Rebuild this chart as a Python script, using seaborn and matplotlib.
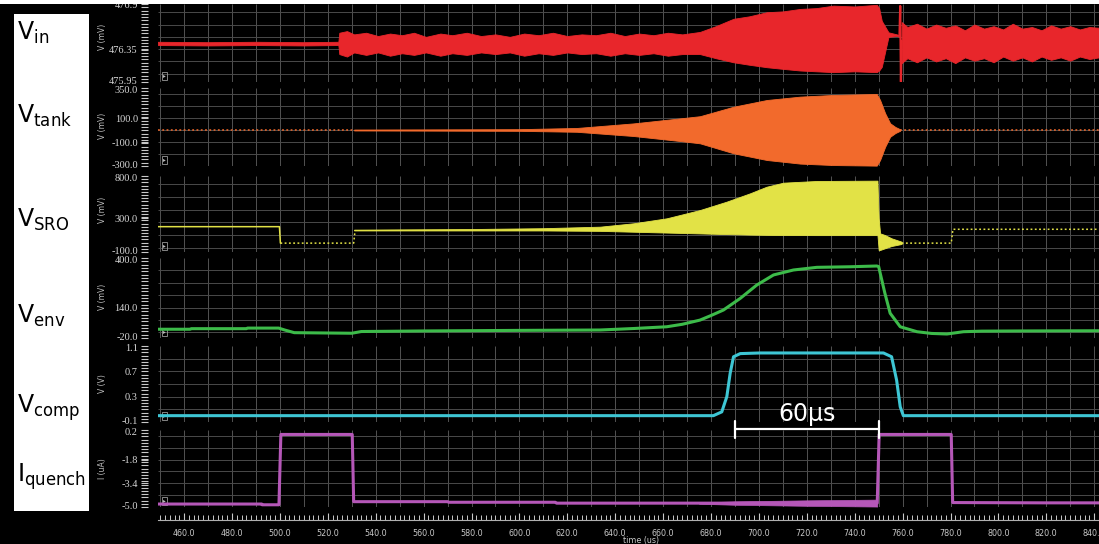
import numpy as np
import matplotlib
matplotlib.use("Agg")
import matplotlib.pyplot as plt
import matplotlib.transforms as mtransforms
from matplotlib.patches import Rectangle
from matplotlib.ticker import FixedLocator, MultipleLocator
import seaborn as sns

# ------------------------------------------------------------------ data
time_tick_values = list(range(460, 841, 20))
time_tick_labels = [f"{v:.1f}" for v in time_tick_values]

# Vin (mV): noisy band envelope, spike, band after quench
vin_t = [449.1, 470, 490, 510, 524.4, 524.8, 528, 531, 536, 541, 546, 551, 556, 561,
         567, 572, 578, 584, 590, 596, 602, 608, 614, 620, 626, 632, 638, 644, 650,
         656, 662, 668, 675.4, 682, 689.4, 696, 703.3, 710, 717.2, 724, 731.1, 740,
         749.2, 750.2, 751.3, 754.1, 757.6, 758.6]
vin_hi = [476.44, 476.435, 476.44, 476.435, 476.44, 476.55, 476.57, 476.53, 476.55,
          476.51, 476.54, 476.52, 476.55, 476.50, 476.54, 476.52, 476.55, 476.51, 476.53,
          476.50, 476.54, 476.52, 476.55, 476.51, 476.53, 476.52, 476.55, 476.51, 476.54,
          476.52, 476.55, 476.53, 476.56, 476.63, 476.72, 476.75, 476.80, 476.81, 476.84,
          476.85, 476.88, 476.87, 476.89, 476.85, 476.695, 476.555, 476.53, 476.52]
vin_lo = [476.40, 476.395, 476.40, 476.395, 476.40, 476.29, 476.26, 476.31, 476.28,
          476.31, 476.27, 476.30, 476.28, 476.31, 476.27, 476.30, 476.28, 476.31, 476.29,
          476.31, 476.27, 476.30, 476.28, 476.31, 476.29, 476.30, 476.27, 476.30, 476.28,
          476.30, 476.27, 476.29, 476.29, 476.24, 476.19, 476.16, 476.13, 476.11, 476.09,
          476.08, 476.07, 476.08, 476.07, 476.09, 476.134, 476.50, 476.51, 476.50]
vin_spike_t = [758.7, 759.0, 759.3, 759.6]
vin_spike_v = [476.52, 476.876, 475.953, 476.45]
vin_post_t = [759.6, 762, 766, 770, 774, 778, 782, 786, 790, 794, 798, 802, 806, 810,
              814, 818, 822, 826, 830, 834, 838, 842.0]
vin_post_hi = [476.68, 476.62, 476.66, 476.60, 476.65, 476.61, 476.64, 476.58, 476.65,
               476.60, 476.63, 476.59, 476.66, 476.60, 476.62, 476.58, 476.64, 476.60,
               476.63, 476.59, 476.62, 476.61]
vin_post_lo = [476.18, 476.24, 476.19, 476.25, 476.20, 476.24, 476.18, 476.25, 476.21,
               476.24, 476.19, 476.26, 476.21, 476.25, 476.20, 476.26, 476.22, 476.25,
               476.21, 476.26, 476.23, 476.25]

# Vtank (mV)
vtank_pre_t = [449.1, 531.0]
vtank_pre_v = [0, 0]
vtank_band_t = [531, 560, 600, 624, 647.6, 668.5, 675.4, 689.4, 703.3, 717.2, 731.0,
                749.2, 750.6, 752.7, 754.8, 757.0, 759.0]
vtank_band_hi = [4, 5, 7, 17, 55, 100, 115, 194, 250, 278, 292, 300, 250, 140, 56, 25, 6]
vtank_band_lo = [-4, -5, -7, -15, -50, -95, -111, -194, -250, -280, -292, -297, -250,
                 -140, -56, -25, -6]
vtank_post_t = [759.0, 842.0]
vtank_post_v = [0, 0]

# VSRO (mV)
vsro_pre_t = [449.1, 499.8, 500.2]
vsro_pre_v = [200, 200, 5]
vsro_low_t = [500.2, 530.8, 531.4]
vsro_low_v = [5, 5, 160]
vsro_band_t = [531, 580, 610, 633.7, 647.6, 661.5, 675.4, 686.5, 696.3, 703.2, 710.2,
               724.1, 749.5, 750.0, 750.6, 752.6, 755.4, 759.6]
vsro_band_hi = [165, 172, 182, 200, 240, 299, 397, 496, 595, 673, 721, 741, 745, 300,
                121, 101, 62, 22]
vsro_band_lo = [155, 155, 155, 150, 140, 130, 120, 112, 106, 103, 101, 100, 100, -76,
                -76, -56, -29, -5]
vsro_post_t = [759.6, 780.3, 781.0, 842.0]
vsro_post_v = [5, 5, 169, 169]

# Venv (mV)
venv_t = [449.1, 462.5, 463, 486, 486.5, 499.5, 502, 506, 530, 534, 560, 600, 633.7,
          648, 661.5, 668, 675.4, 680, 685.2, 692.2, 699.1, 706.1, 714.4, 724.2, 738,
          749.2, 750, 752.6, 754.8, 759, 766, 772, 778.5, 785.4, 793, 810, 842.0]
venv_v = [26, 26, 29, 29, 32, 32, 22, 8, 5, 14, 17, 20, 22, 30, 39, 52, 74, 98, 127,
          188, 258, 311, 337, 351, 354, 358, 355, 215, 110, 39, 13, 4, 1, 13, 16, 17, 18]

# Vcomp (V)
vcomp_t = [449.1, 681, 684.5, 686.6, 688, 689.4, 692.2, 700.5, 752, 755.4, 757.5, 759,
           760.3, 842.0]
vcomp_v = [0.0, 0.0, 0.06, 0.30, 0.67, 0.93, 0.98, 0.99, 0.99, 0.93, 0.56, 0.14, 0.0, 0.0]

# Iquench (uA)
iq_t = [449.1, 492.4, 492.6, 499.6, 500.4, 530.2, 530.8, 570, 570.5, 615, 615.5, 749.4,
        750.2, 780.3, 780.9, 820, 842.0]
iq_v = [-4.80, -4.80, -4.85, -4.85, -0.1, -0.1, -4.64, -4.64, -4.68, -4.68, -4.74,
        -4.74, -0.1, -0.1, -4.70, -4.72, -4.72]
iq_noise_t = [675, 690, 720, 749.4]
iq_noise_hi = [-4.70, -4.62, -4.55, -4.50]
iq_noise_lo = [-4.78, -4.85, -4.92, -4.97]

bracket_t = [690, 750]
bracket_text = "60µs"

signal_names = [r"$\mathregular{V_{in}}$", r"$\mathregular{V_{tank}}$",
                r"$\mathregular{V_{SRO}}$", r"$\mathregular{V_{env}}$",
                r"$\mathregular{V_{comp}}$", r"$\mathregular{I_{quench}}$"]
y_units = ["V (mV)", "V (mV)", "V (mV)", "V (mV)", "V (V)", "I (uA)"]
y_limits = [(475.95, 476.9), (-300, 350), (-100, 800), (-20, 400), (-0.1, 1.1), (-5.0, 0.2)]
y_tick_values = [[476.9, 476.35, 475.95], [350, 100, -100, -300], [800, 300, -100],
                 [400, 140, -20], [1.1, 0.7, 0.3, -0.1], [0.2, -1.8, -3.4, -5.0]]
y_tick_labels = [["476.9", "476.35", "475.95"], ["350.0", "100.0", "-100.0", "-300.0"],
                 ["800.0", "300.0", "-100.0"], ["400.0", "140.0", "-20.0"],
                 ["1.1", "0.7", "0.3", "-0.1"], ["0.2", "-1.8", "-3.4", "-5.0"]]
grid_values = [np.arange(476.05, 476.9, 0.15), np.arange(-200, 350, 100),
               np.arange(-50, 800, 150), np.arange(10, 400, 65),
               np.arange(0.1, 1.0, 0.2), np.arange(-4.2, 0.2, 0.8)]

colors = {"vin": "#e8262b", "vtank": "#f26a2c", "vsro": "#e2e246", "venv": "#3dbb4a",
          "vcomp": "#3ec6d4", "iq": "#b557b8"}

# ------------------------------------------------------------------ style
sns.set_theme(style="dark", rc={"axes.facecolor": "black", "figure.facecolor": "black",
                                "savefig.facecolor": "black", "axes.edgecolor": "black",
                                "text.color": "#d0d0d0"})
plt.rcParams["font.family"] = ["DejaVu Sans"]
plt.rcParams["mathtext.fontset"] = "dejavusans"

W, H = 1099, 544
fig = plt.figure(figsize=(W / 100, H / 100), dpi=100)

fig.patches.append(Rectangle((0, 1 - 4 / H), 1, 4 / H, transform=fig.transFigure,
                             facecolor="white", edgecolor="none", zorder=0))
fig.patches.append(Rectangle((14 / W, 1 - 511 / H), 75 / W, 497 / H,
                             transform=fig.transFigure, facecolor="white",
                             edgecolor="none", zorder=0))

panels_px = [(4, 82), (88, 166), (176, 252), (258, 338), (346, 422), (430, 507)]
label_base_px = [40, 123, 227, 323, 413, 482]
ylabel_pos = [0.58, 0.52, 0.55, 0.52, 0.5, 0.5]
x_left, x_right = 158, 1099
xlim = (449.1, 842.0)

axes = []
for i, (top, bot) in enumerate(panels_px):
    ax = fig.add_axes([x_left / W, 1 - bot / H, (x_right - x_left) / W, (bot - top) / H])
    ax.set_facecolor("black")
    ax.set_xlim(*xlim)
    ax.set_ylim(*y_limits[i])
    for s in ax.spines.values():
        s.set_visible(False)
    ax.spines["left"].set_position(("outward", 12))
    ax.set_yticks(y_tick_values[i], y_tick_labels[i])
    lo, hi = y_limits[i]
    ax.yaxis.set_minor_locator(FixedLocator(np.linspace(lo, hi, 25)))
    ax.tick_params(axis="y", which="both", direction="in", length=5, width=0.8,
                   color="#c8c8c8", left=True, labelcolor="#d8d8d8", labelsize=7.5,
                   pad=2.5, labelfontfamily="Liberation Serif")
    # nudge the extreme labels apart so neighbouring panels do not collide
    tls = ax.get_yticklabels()
    if i > 0:
        tls[0].set_transform(tls[0].get_transform() +
                             mtransforms.ScaledTranslation(0, -1.5 / 100, fig.dpi_scale_trans))
    tls[-1].set_transform(tls[-1].get_transform() +
                          mtransforms.ScaledTranslation(0, 1.5 / 100, fig.dpi_scale_trans))
    ax.set_ylabel(y_units[i], fontsize=5.5, color="#c0c0c0")
    ax.yaxis.set_label_coords((106.5 - x_left) / (x_right - x_left), ylabel_pos[i])
    ax.grid(False)
    ax.vlines(np.arange(450, 842, 10), 0, 1, transform=ax.get_xaxis_transform(),
              colors="#525252", lw=0.7, zorder=0.5)
    ax.hlines(grid_values[i], 0, 1, transform=ax.get_yaxis_transform(),
              colors="#4a4a4a", lw=0.7, zorder=0.5)
    ax.text(5 / (x_right - x_left), 3.5 / (bot - top), "▸", transform=ax.transAxes,
            fontsize=4, color="#bbbbbb", ha="left", va="bottom", zorder=1,
            bbox=dict(boxstyle="square,pad=0.25", fc="none", ec="#9a9a9a", lw=0.6))
    if i < 5:
        ax.tick_params(axis="x", which="both", bottom=False, labelbottom=False)
    axes.append(ax)

ax1, ax2, ax3, ax4, ax5, ax6 = axes

# Vin
ax1.fill_between(vin_t, vin_lo, vin_hi, color=colors["vin"], lw=0.6, zorder=2)
ax1.fill_between(vin_post_t, vin_post_lo, vin_post_hi, color=colors["vin"], lw=0.6, zorder=2)
sns.lineplot(x=vin_spike_t, y=vin_spike_v, ax=ax1, color=colors["vin"], lw=1.6,
             estimator=None, sort=False, zorder=3)

# Vtank
sns.lineplot(x=vtank_pre_t, y=vtank_pre_v, ax=ax2, color=colors["vtank"], lw=1.1,
             estimator=None, sort=False, linestyle=(0, (1.2, 1.6)), zorder=2)
ax2.fill_between(vtank_band_t, vtank_band_lo, vtank_band_hi, color=colors["vtank"],
                 lw=0.6, zorder=2)
sns.lineplot(x=vtank_post_t, y=vtank_post_v, ax=ax2, color=colors["vtank"], lw=1.1,
             estimator=None, sort=False, linestyle=(0, (1.2, 1.6)), zorder=2)

# VSRO
sns.lineplot(x=vsro_pre_t, y=vsro_pre_v, ax=ax3, color=colors["vsro"], lw=1.1,
             estimator=None, sort=False, zorder=2)
sns.lineplot(x=vsro_low_t, y=vsro_low_v, ax=ax3, color=colors["vsro"], lw=1.1,
             estimator=None, sort=False, linestyle=(0, (1.2, 1.6)), zorder=2)
ax3.fill_between(vsro_band_t, vsro_band_lo, vsro_band_hi, color=colors["vsro"],
                 lw=0.6, zorder=2)
sns.lineplot(x=vsro_post_t, y=vsro_post_v, ax=ax3, color=colors["vsro"], lw=1.1,
             estimator=None, sort=False, linestyle=(0, (1.2, 1.6)), zorder=2)

# Venv
sns.lineplot(x=venv_t, y=venv_v, ax=ax4, color=colors["venv"], lw=2.2,
             estimator=None, sort=False, zorder=2)

# Vcomp
sns.lineplot(x=vcomp_t, y=vcomp_v, ax=ax5, color=colors["vcomp"], lw=2.2,
             estimator=None, sort=False, zorder=2)

# Iquench
ax6.fill_between(iq_noise_t, iq_noise_lo, iq_noise_hi, color=colors["iq"], lw=0.5, zorder=2)
sns.lineplot(x=iq_t, y=iq_v, ax=ax6, color=colors["iq"], lw=2.2,
             estimator=None, sort=False, zorder=2)

for ax in axes:
    ax.set_xlabel("")
    ax.set_xlim(*xlim)
    lg = ax.get_legend()
    if lg:
        lg.remove()

# bottom time ruler
ax6.spines["bottom"].set_visible(True)
ax6.spines["bottom"].set_position(("outward", 9))
ax6.spines["bottom"].set_color("#b0b0b0")
ax6.spines["bottom"].set_linewidth(0.8)
ax6.set_xticks(time_tick_values, time_tick_labels)
ax6.xaxis.set_minor_locator(MultipleLocator(2))
ax6.tick_params(axis="x", which="major", direction="in", length=5, width=0.8,
                color="#c8c8c8", bottom=True, labelbottom=True, labelsize=5.8,
                labelcolor="#c8c8c8", pad=7)
ax6.tick_params(axis="x", which="minor", direction="in", length=3.5, width=0.7,
                color="#c8c8c8", bottom=True)
fig.text(641 / W, 1 - 540 / H, "time (us)", fontsize=5.8, color="#c8c8c8",
         ha="center", va="center")

# left labels
for name, base in zip(signal_names, label_base_px):
    fig.text(17 / W, 1 - base / H, name, fontsize=17, color="black",
             ha="left", va="baseline")

# 60 us bracket
trans = mtransforms.blended_transform_factory(ax6.transData, fig.transFigure)
yb = 1 - 429 / H
ax6.plot(bracket_t, [yb, yb], transform=trans, color="white", lw=1.6, clip_on=False,
         zorder=10)
for bt in bracket_t:
    ax6.plot([bt, bt], [1 - 421 / H, 1 - 438 / H], transform=trans, color="white",
             lw=1.6, clip_on=False, zorder=10)
ax6.text(sum(bracket_t) / 2, 1 - 414 / H, bracket_text, transform=trans, fontsize=17,
         color="white", ha="center", va="center", clip_on=False, zorder=10)

fig.savefig("out.png", dpi=100, facecolor="black")
